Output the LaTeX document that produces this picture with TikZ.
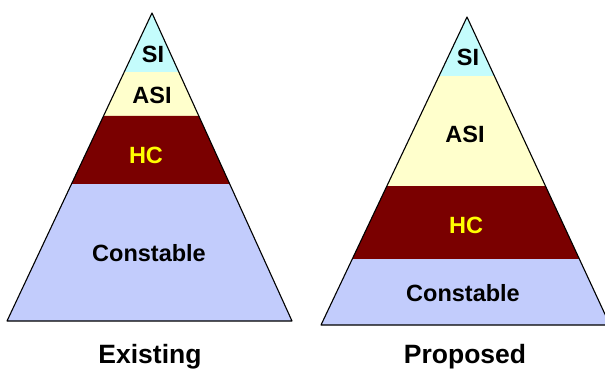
\documentclass[tikz,border=0pt]{standalone}
\usepackage{fontspec}
\setmainfont{Liberation Sans}
\usetikzlibrary{calc}
\definecolor{siblue}{HTML}{C4FCFC}
\definecolor{asiyellow}{HTML}{FFFFCC}
\definecolor{hcred}{HTML}{7A0000}
\definecolor{conblue}{HTML}{C2CCFC}
\definecolor{hctext}{HTML}{FFFF00}
\tikzset{
  rank/.style={font=\bfseries\fontsize{23.5}{28}\selectfont, anchor=base, inner sep=0pt},
  caption/.style={font=\bfseries\fontsize{26.5}{31}\selectfont, anchor=base, inner sep=0pt},
  outline/.style={draw=black, line width=1.1pt, line join=round},
}
\begin{document}
\begin{tikzpicture}[x=1pt,y=-1pt]
\useasboundingbox (0,0) rectangle (605,370);
\begin{scope}
\clip (0,0) rectangle (605,370);
% ---- existing structure ----
\coordinate (la) at (152,13);
\coordinate (ll) at (7,321);
\coordinate (lr) at (292,321);
\fill[siblue] (la) -- ($(la)!0.1916!(lr)$) -- ($(la)!0.1916!(ll)$) -- cycle;
\fill[asiyellow] ($(la)!0.1916!(ll)$) -- ($(la)!0.1916!(lr)$) -- ($(la)!0.3344!(lr)$) -- ($(la)!0.3344!(ll)$) -- cycle;
\fill[hcred] ($(la)!0.3344!(ll)$) -- ($(la)!0.3344!(lr)$) -- ($(la)!0.5552!(lr)$) -- ($(la)!0.5552!(ll)$) -- cycle;
\fill[conblue] ($(la)!0.5552!(ll)$) -- ($(la)!0.5552!(lr)$) -- (lr) -- (ll) -- cycle;
\draw[outline] (la) -- (lr) -- (ll) -- cycle;
% ---- proposed structure ----
\coordinate (ra) at (467,17);
\coordinate (rl) at (321,325);
\coordinate (rr) at (610,325);
\fill[siblue] (ra) -- ($(ra)!0.1916!(rr)$) -- ($(ra)!0.1916!(rl)$) -- cycle;
\fill[asiyellow] ($(ra)!0.1916!(rl)$) -- ($(ra)!0.1916!(rr)$) -- ($(ra)!0.5487!(rr)$) -- ($(ra)!0.5487!(rl)$) -- cycle;
\fill[hcred] ($(ra)!0.5487!(rl)$) -- ($(ra)!0.5487!(rr)$) -- ($(ra)!0.7857!(rr)$) -- ($(ra)!0.7857!(rl)$) -- cycle;
\fill[conblue] ($(ra)!0.7857!(rl)$) -- ($(ra)!0.7857!(rr)$) -- (rr) -- (rl) -- cycle;
\draw[outline] (ra) -- (rr) -- (rl) -- cycle;
\end{scope}
% ---- labels ----
\node[rank] (lsi) at (153,62) {SI};
\node[rank] (lasi) at (152,103) {ASI};
\node[rank, text=hctext] (lhc) at (146,163) {HC};
\node[rank] (lcon) at (149,261) {Constable};
\node[caption] (lcap) at (150,363) {Existing};
\node[rank] (rsi) at (468,65) {SI};
\node[rank] (rasi) at (465,142) {ASI};
\node[rank, text=hctext] (rhc) at (466,233) {HC};
\node[rank] (rcon) at (463,301) {Constable};
\node[caption] (rcap) at (465,363) {Proposed};
\end{tikzpicture}
\end{document}
